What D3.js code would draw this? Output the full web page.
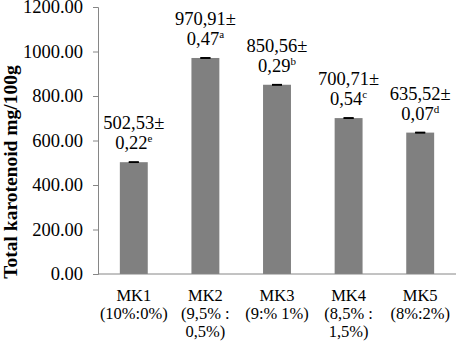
<!DOCTYPE html>
<html>
<head>
<meta charset="utf-8">
<script src="https://cdn.jsdelivr.net/npm/d3@7/dist/d3.min.js"></script>
<style>
  html, body { margin: 0; padding: 0; background: #fff; }
  svg { display: block; }
  svg text { font-family: "Liberation Serif", "Times New Roman", serif !important; fill: #000; }
</style>
</head>
<body>
<svg id="chart" width="456" height="341"></svg>
<script>
// Total carotenoid content per formulation
const categories = ["MK1", "MK2", "MK3", "MK4", "MK5"];
const categorySub = [
  ["(10%:0%)"],
  ["(9,5% :", "0,5%)"],
  ["(9:% 1%)"],
  ["(8,5% :", "1,5%)"],
  ["(8%:2%)"]
];
const means = [502.53, 970.91, 850.56, 700.71, 635.52];
const sds = [0.22, 0.47, 0.29, 0.54, 0.07];
const meanLabels = ["502,53±", "970,91±", "850,56±", "700,71±", "635,52±"];
const sdLabels = ["0,22", "0,47", "0,29", "0,54", "0,07"];
const letters = ["e", "a", "b", "c", "d"];
const yTicks = [0, 200, 400, 600, 800, 1000, 1200];

const serif = "'Liberation Serif', 'Times New Roman', serif";
const svg = d3.select("#chart");
const margin = { left: 98, right: 0, top: 7, bottom: 67 };
const W = 456, H = 341;

const x = d3.scaleBand()
  .domain(categories)
  .range([margin.left, W - margin.right])
  .paddingInner(0.61)
  .paddingOuter(0.305);

const y = d3.scaleLinear()
  .domain([0, 1200])
  .range([H - margin.bottom, margin.top]);

const axisColor = "#868686";

// y axis
const yAxis = svg.append("g")
  .attr("transform", `translate(${margin.left},0)`)
  .call(d3.axisLeft(y).tickValues(yTicks).tickFormat(d3.format(".2f")).tickSizeOuter(0).tickSize(5).tickPadding(10));
yAxis.attr("font-family", null);
yAxis.select(".domain").attr("stroke", axisColor);
yAxis.selectAll(".tick line").attr("stroke", axisColor);
yAxis.selectAll(".tick text")
  .attr("font-size", 18.5)
  .style("font-family", serif)
  .attr("fill", "#000");

// bars
svg.append("g").selectAll("rect")
  .data(categories)
  .join("rect")
  .attr("x", d => x(d))
  .attr("width", x.bandwidth())
  .attr("y", (d, i) => y(means[i]))
  .attr("height", (d, i) => y(0) - y(means[i]))
  .attr("fill", "#808080");

// error bars
const err = svg.append("g").attr("stroke", "#000").attr("stroke-width", 1.6);
categories.forEach((c, i) => {
  const cx = x(c) + x.bandwidth() / 2;
  const hi = y(means[i] + sds[i]), lo = y(means[i] - sds[i]);
  err.append("line").attr("x1", cx).attr("x2", cx).attr("y1", hi).attr("y2", lo);
  err.append("line").attr("x1", cx - 5).attr("x2", cx + 5).attr("y1", hi).attr("y2", hi);
  err.append("line").attr("x1", cx - 5).attr("x2", cx + 5).attr("y1", lo).attr("y2", lo);
});

// x axis line
svg.append("line")
  .attr("x1", margin.left).attr("x2", W)
  .attr("y1", y(0)).attr("y2", y(0))
  .attr("stroke", axisColor);

// value labels above bars: mean± on the first line, sd with significance letter below
const vl = svg.append("g").attr("font-size", 18.5).attr("text-anchor", "middle").style("font-family", serif);
categories.forEach((c, i) => {
  const cx = x(c) + x.bandwidth() / 2;
  const top = y(means[i]);
  vl.append("text").attr("x", cx).attr("y", top - 33).text(meanLabels[i]);
  const t2 = vl.append("text").attr("x", cx).attr("y", top - 13);
  t2.append("tspan").text(sdLabels[i]);
  t2.append("tspan").attr("font-size", 11).attr("dy", -7).text(letters[i]);
});

// category labels
const cl = svg.append("g").attr("font-size", 16.5).attr("text-anchor", "middle").style("font-family", serif);
categories.forEach((c, i) => {
  const cx = x(c) + x.bandwidth() / 2;
  const t = cl.append("text").attr("x", cx).attr("y", 301);
  t.append("tspan").attr("x", cx).attr("dy", 0).text(c);
  categorySub[i].forEach(s => t.append("tspan").attr("x", cx).attr("dy", 18).text(s));
});

// y axis title
svg.append("text")
  .attr("transform", `translate(16.5,${172}) rotate(-90)`)
  .attr("text-anchor", "middle")
  .attr("font-size", 19.5)
  .attr("font-weight", "bold")
  .style("font-family", serif)
  .text("Total karotenoid mg/100g");
</script>
</body>
</html>
